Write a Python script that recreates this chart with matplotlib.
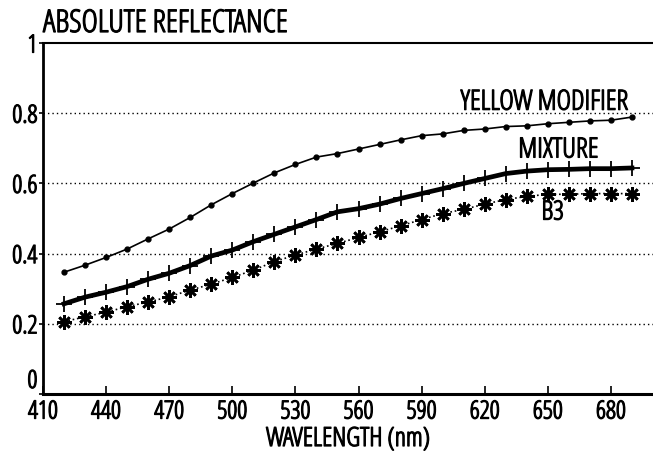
import numpy as np
import matplotlib
matplotlib.use("Agg")
from matplotlib import pyplot as plt
import matplotlib.patheffects as pe

plt.rcParams['font.family'] = ['Open Sans', 'DejaVu Sans']
plt.rcParams['font.stretch'] = 'condensed'

# wavelength grid (nm) and reflectance curves
wavelength = np.arange(420, 700, 10)
yellow_modifier = [0.347, 0.367, 0.389, 0.413, 0.442, 0.470, 0.503, 0.539, 0.571, 0.601,
                   0.630, 0.654, 0.675, 0.685, 0.698, 0.711, 0.724, 0.736, 0.741, 0.751,
                   0.755, 0.762, 0.764, 0.770, 0.774, 0.778, 0.780, 0.789]
mixture = [0.257, 0.276, 0.290, 0.306, 0.327, 0.344, 0.366, 0.393, 0.410, 0.434,
           0.455, 0.476, 0.497, 0.519, 0.528, 0.541, 0.557, 0.571, 0.585, 0.600,
           0.614, 0.628, 0.635, 0.639, 0.640, 0.642, 0.642, 0.644]
b3 = [0.206, 0.220, 0.233, 0.249, 0.262, 0.277, 0.296, 0.313, 0.332, 0.353,
      0.377, 0.396, 0.413, 0.429, 0.446, 0.462, 0.479, 0.497, 0.514, 0.526,
      0.541, 0.554, 0.563, 0.569, 0.569, 0.571, 0.571, 0.571]

x_ticks = [410, 440, 470, 500, 530, 560, 590, 620, 650, 680]
y_ticks = [0, 0.2, 0.4, 0.6, 0.8, 1]
y_tick_labels = ['0', '0.2', '0.4', '0.6', '0.8', '1']

# thicken the light condensed glyphs a little
bold_fx = [pe.withStroke(linewidth=0.9, foreground='black')]

fig = plt.figure(figsize=(6.53, 4.56), dpi=100)
ax = fig.add_axes([43 / 653, 1 - 395 / 456, 1 - 43 / 653, (395 - 44) / 456])

ax.plot(wavelength, yellow_modifier, '-', color='black', linewidth=1.2,
        marker='o', markersize=3.5, zorder=4)
ax.plot(wavelength, mixture, '-', color='black', linewidth=3.4,
        marker='+', markersize=12, markeredgewidth=1.3, zorder=4)
ax.plot(wavelength, b3, ':', color='black', linewidth=1.2,
        marker=(8, 2, 0), markersize=10.5, markeredgewidth=1.9, zorder=4)

# dotted reference lines
for yv in [0.2, 0.4, 0.6, 0.8]:
    ax.axhline(yv, color='black', linestyle=(0, (1, 2.2)), linewidth=1.0, zorder=1)

ax.set_xlim(410, 700)
ax.set_ylim(0, 1)
ax.set_xticks(x_ticks)
ax.set_yticks(y_ticks)
ax.set_yticklabels(y_tick_labels)
ax.tick_params(axis='x', direction='in', length=6, width=1.2, labelsize=18, pad=4)
ax.tick_params(axis='y', direction='out', length=3, width=1.2, labelsize=18, pad=1)
for lbl in ax.get_xticklabels() + ax.get_yticklabels():
    lbl.set_path_effects(bold_fx)
# lift the zero label clear of the first wavelength label
ax.get_yticklabels()[0].set_verticalalignment('bottom')

ax.spines['right'].set_visible(False)
ax.spines['left'].set_linewidth(2.0)
ax.spines['bottom'].set_linewidth(2.2)
ax.spines['top'].set_linewidth(1.5)

ax.text(688, 0.81, 'YELLOW MODIFIER', ha='right', va='baseline', fontsize=20, path_effects=bold_fx)
ax.text(674, 0.674, 'MIXTURE', ha='right', va='baseline', fontsize=20, path_effects=bold_fx)
ax.text(647, 0.497, 'B3', ha='left', va='baseline', fontsize=19, path_effects=bold_fx)

fig.text(43 / 653, 1 - 33 / 456, 'ABSOLUTE REFLECTANCE', ha='left', va='baseline',
         fontsize=22.5, path_effects=bold_fx)
fig.text(348 / 653, 1 - 447 / 456, 'WAVELENGTH (nm)', ha='center', va='baseline',
         fontsize=19, path_effects=bold_fx)

fig.savefig('out.png', dpi=100)
